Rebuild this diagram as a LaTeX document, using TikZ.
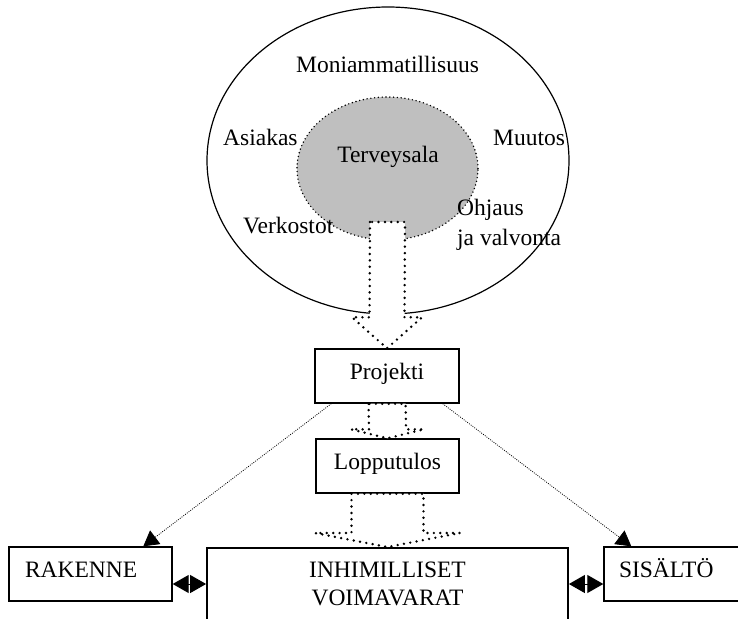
\documentclass[tikz,border=0pt]{standalone}
\usepackage{fontspec}
\setmainfont{Liberation Serif}
\usetikzlibrary{arrows.meta,calc,shapes.geometric}
\tikzset{
  lbl/.style={font=\fontsize{23.5}{28}\selectfont, inner sep=0pt},
  fieldshape/.style={draw, ellipse, line width=1.2pt,
    minimum width=362pt, minimum height=307pt},
  coreshape/.style={draw, ellipse, fill=black!25, line width=1.6pt,
    dash pattern=on 0pt off 3.8pt, line cap=round,
    minimum width=181pt, minimum height=143pt},
  flowbox/.style={lbl, draw, line width=1.4pt, text height=17pt,
    text depth=11pt, minimum height=54pt},
  blockarrow/.style={fill=white, line width=2.7pt,
    dash pattern=on 0pt off 6.4pt, line cap=round, line join=round},
  thinlink/.style={line width=0.8pt, dash pattern=on 0.9pt off 1.3pt,
    -{Triangle[length=15pt, width=17pt]}},
  twohead/.style={line width=1pt,
    {Triangle[length=16pt, width=18pt]}-{Triangle[length=16pt, width=18pt]}}
}
% wide hollow arrow: start, tip, half shaft, half head, head length
\newcommand{\hollowarrow}[5]{%
  \draw[blockarrow] ($(#1)+(-#3,0)$) -- ($(#2)+(-#3,-#5)$)
    -- ($(#2)+(-#4,-#5)$) -- (#2) -- ($(#2)+(#4,-#5)$)
    -- ($(#2)+(#3,-#5)$) -- ($(#1)+(#3,0)$) -- cycle;}
\begin{document}
\begin{tikzpicture}[x=1pt, y=-1pt]
  \clip (0,0) rectangle (738,618);
  % the field
  \node[fieldshape] (field) at (388,160.5) {};
  \node[coreshape] (core) at (387.5,168.5) {};
  \node[lbl, anchor=base] (moni) at (387.5,72) {Moniammatillisuus};
  \node[lbl, anchor=base west] (asiakas) at (223,145) {Asiakas};
  \node[lbl, anchor=base] (terveys) at (388,162) {Terveysala};
  \node[lbl, anchor=base west] (muutos) at (493,145) {Muutos};
  \node[lbl, anchor=base west] (verkostot) at (243,233) {Verkostot};
  \node[lbl, align=left, anchor=north west] (ohjaus) at (457,199)
    {Ohjaus\\[2pt]ja valvonta};
  \coordinate (stem) at (387.5,222);
  % boxes
  \node[flowbox, minimum width=144pt] (proj) at (387,376) {Projekti};
  \node[flowbox, minimum width=143pt] (lop) at (387.5,466) {Lopputulos};
  \node[flowbox, text width=131pt, align=left, inner xsep=16pt] (rak)
    at (90.5,574) {RAKENNE};
  \node[flowbox, text width=126pt, align=left, inner xsep=15pt] (sis)
    at (682,574) {SISÄLTÖ};
  \node[lbl, draw, line width=1.8pt, align=center, minimum width=361pt,
    anchor=north, inner ysep=14.4pt, text depth=30pt] (inh) at (387.5,547)
    {INHIMILLISET\\VOIMAVARAT};
  % links
  \draw[thinlink] ($(proj.south west)+(17,0)$) -- ($(rak.north west)+(135,0)$);
  \draw[thinlink] ($(proj.south east)+(-17,0)$) -- ($(sis.north west)+(28,0)$);
  \coordinate (rl) at ($(rak.east)+(0,10)$);
  \coordinate (sl) at ($(sis.west)+(0,10)$);
  \draw[twohead] (rl) -- (rl -| inh.west);
  \draw[twohead] (sl -| inh.east) -- (sl);
  % hollow arrows
  \hollowarrow{stem}{proj.north}{17.5}{35}{31}
  \hollowarrow{proj.south}{lop.north}{18.5}{36.5}{9}
  \hollowarrow{lop.south}{inh.north}{36}{72.5}{14}
\end{tikzpicture}
\end{document}
